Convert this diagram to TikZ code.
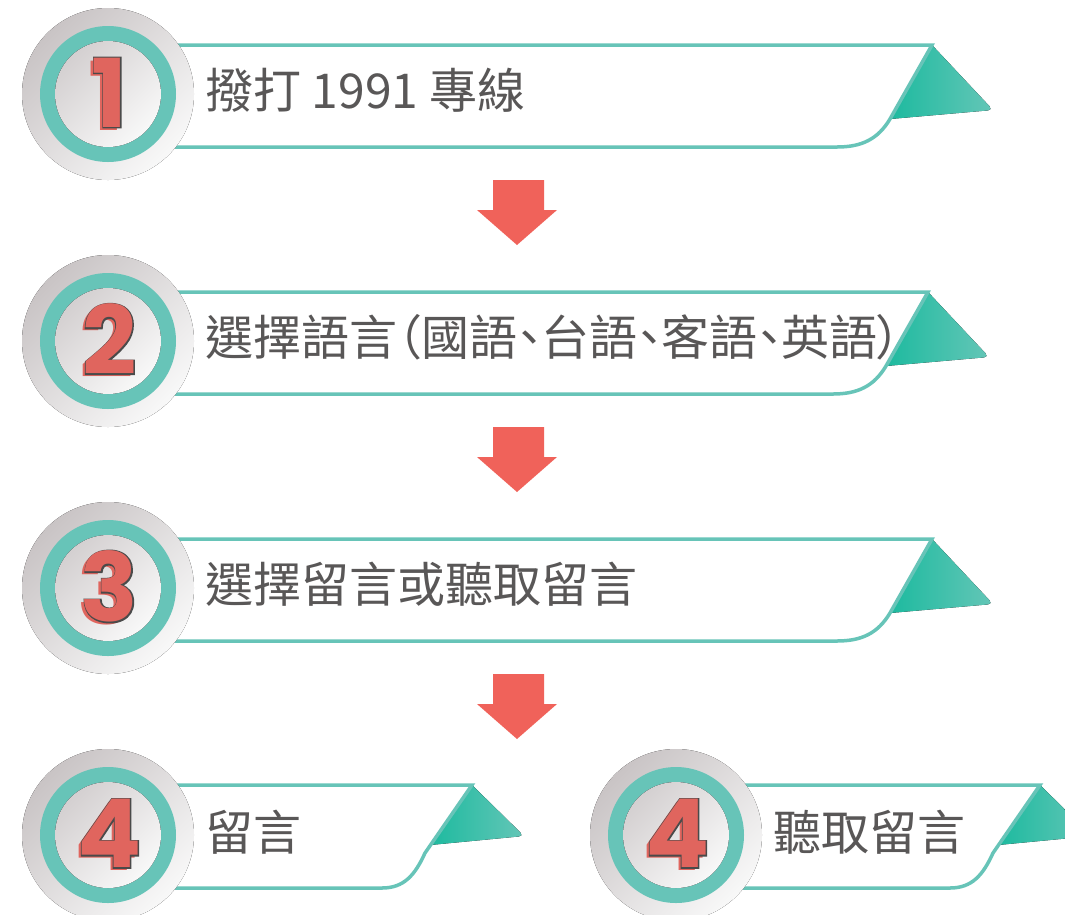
\documentclass[tikz,border=0pt]{standalone}
\usepackage{fontspec}
\newfontfamily\cjkfont{Noto Sans CJK TC}[RawFeature=+palt]
\newfontfamily\numfont{Poppins}
\newfontfamily\numedge{Poppins}[BoldFeatures={FakeBold=2.5}]
\definecolor{ringteal}{HTML}{67C4B8}
\definecolor{tealdark}{HTML}{1DBA9F}
\definecolor{teallight}{HTML}{64C6B7}
\definecolor{discdark}{HTML}{C9C4C5}
\definecolor{disclight}{HTML}{F8F8F8}
\definecolor{arrowred}{HTML}{F0625A}
\definecolor{numred}{HTML}{E0655E}
\definecolor{numline}{HTML}{4A4A4A}
\definecolor{textgray}{HTML}{595757}

% round badge with the step number
\newcommand\badge[4]{%
  \fill[outer disc] (#1,#2) circle (86pt);
  \fill[ringteal] (#1,#2) circle (68pt);
  \fill[inner disc] (#1,#2) circle (53pt);
  \node[digit shadow] (#4s) at (#1-1.5,#2+1.5) {#3};
  \node[digit edge] (#4e) at (#1+1.5,#2-1.5) {#3};
  \node[digit shadow] (#4) at (#1+1.5,#2-1.5) {#3};
}
% long ribbon, rows 1--3
\newcommand\bigribbon[3]{%
  \fill[flag] (#2,#3-49) [rounded corners=5pt] -- (#2+61,#3+16) [sharp corners] -- (#2-42,#3+25) -- cycle;
  \filldraw[ribbon] (#1,#3-49) -- (#2,#3-49) -- (#2-42,#3+25)
    .. controls (#2-54,#3+45) and (#2-70,#3+53) .. (#2-95,#3+53) -- (#1,#3+53);
}
% short ribbon, last row
\newcommand\smallribbon[3]{%
  \fill[flag] (#2,#3-50) [rounded corners=5pt] -- (#2+52,#3+1) [sharp corners] -- (#2-42,#3+10) -- cycle;
  \filldraw[ribbon] (#1,#3-50) -- (#2,#3-50) -- (#2-47,#3+18)
    .. controls (#2-57,#3+40) and (#2-68,#3+53) .. (#2-90,#3+53) -- (#1,#3+53);
}

\begin{document}
\begin{tikzpicture}[x=1pt, y=-1pt,
  outer disc/.style={top color=discdark, bottom color=disclight, shading angle=45},
  inner disc/.style={top color=discdark!80!white, bottom color=disclight, shading angle=45},
  digit shadow/.style={text=numred, font=\numfont\bfseries\fontsize{95}{95}\selectfont, inner sep=0pt},
  digit edge/.style={text=numline, font=\numedge\bfseries\fontsize{95}{95}\selectfont, inner sep=0pt},
  ribbon/.style={draw=ringteal, fill=white, line width=3.5pt},
  flag/.style={left color=tealdark, middle color=tealdark, right color=teallight},
  label/.style={anchor=west, text=textgray, inner sep=0pt, font=\cjkfont\fontsize{48}{56}\selectfont},
  down/.style={fill=arrowred}]
\clip (0,0) rectangle (1065,914);

\foreach \i/\c/\R/\txt in {1/94/932/{撥打 1991 專線},
                           2/341/928/{選擇語言（國語、台語、客語、英語）},
                           3/588/932/{選擇留言或聽取留言}}{
  \bigribbon{150}{\R}{\c}
  \badge{108}{\c}{\i}{num\i}
  \node[label] (txt\i) at (205,\c-4) {\txt};
  \fill[down] (493,\c+86) -- (544,\c+86) -- (544,\c+116) -- (557,\c+116)
    -- (517,\c+151) -- (477,\c+116) -- (493,\c+116) -- cycle;
}

\smallribbon{150}{472}{835}
\badge{108}{835}{4}{numa}
\node[label] (leave) at (205,832) {留言};

\smallribbon{718}{1040}{835}
\badge{676}{835}{4}{numb}
\node[label] (listen) at (773,832) {聽取留言};

\end{tikzpicture}
\end{document}
